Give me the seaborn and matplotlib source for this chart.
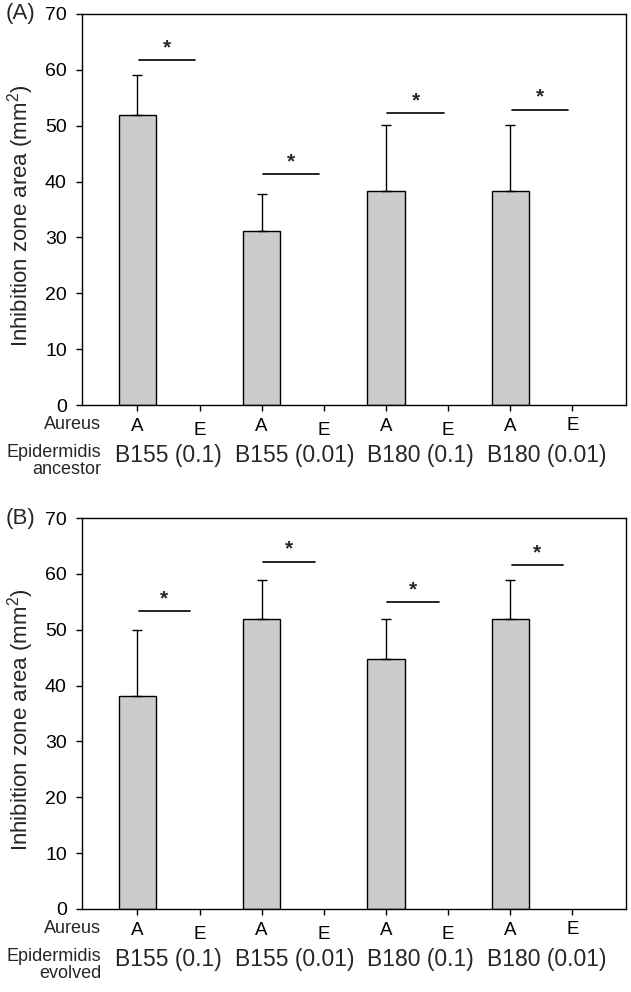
import numpy as np
import pandas as pd
import seaborn as sns
import matplotlib.pyplot as plt
from matplotlib.transforms import ScaledTranslation

sns.set_style("ticks")
plt.rcParams['font.family'] = ['Liberation Sans', 'DejaVu Sans']
plt.rcParams['mathtext.fontset'] = 'custom'
plt.rcParams['mathtext.rm'] = 'Liberation Sans'

strains = ["B155 (0.1)", "B155 (0.01)", "B180 (0.1)", "B180 (0.01)"]
aureus = ["A", "E"]

# panel A: epidermidis ancestor
mean_a = [51.9, 0, 31.1, 0, 38.3, 0, 38.3, 0]
sd_a = [7.2, 0, 6.6, 0, 11.8, 0, 11.8, 0]
sig_a = [61.8, 41.4, 52.3, 52.9]

# panel B: epidermidis evolved
mean_b = [38.2, 0, 51.9, 0, 44.8, 0, 51.9, 0]
sd_b = [11.7, 0, 7.0, 0, 7.1, 0, 7.0, 0]
sig_b = [53.4, 62.2, 54.9, 61.5]

panels = [
    ("(A)", "ancestor", mean_a, sd_a, sig_a, 0.93),
    ("(B)", "evolved", mean_b, sd_b, sig_b, 0.85),
]

fig = plt.figure(figsize=(6.31, 9.92), dpi=100)
boxes = [[0.130, 0.5917, 0.862, 0.3942], [0.130, 0.0837, 0.862, 0.3941]]

for (tag, kind, means, sds, sigs, span), box in zip(panels, boxes):
    ax = fig.add_axes(box)
    df = pd.DataFrame({
        "cond": [s + " " + a for s in strains for a in aureus],
        "value": means,
        "sd": sds,
    })
    sns.barplot(data=df, x="cond", y="value", color="#cccccc", saturation=1,
                edgecolor="black", linewidth=1.0, width=0.6, errorbar=None, ax=ax)
    for p in ax.patches:
        if p.get_height() == 0:
            p.set_linewidth(0)
    xs = np.asarray(ax.get_xticks())
    has = (df["sd"] > 0).to_numpy()
    ax.errorbar(xs[has], df["value"].to_numpy()[has],
                yerr=[np.zeros(has.sum()), df["sd"].to_numpy()[has]],
                fmt="none", ecolor="black", elinewidth=1.0, capsize=3.8, capthick=1.0)

    for k, h in enumerate(sigs):
        x0 = xs[2 * k] + 0.02
        x1 = xs[2 * k] + span
        ax.plot([x0, x1], [h, h], color="black", lw=1.2)
        ax.text((x0 + x1) / 2, h + 0.5, "*", ha="center", va="bottom",
                fontsize=15, fontweight="bold")

    ax.set_xlim(-0.89, 7.86)
    ax.set_ylim(0, 70)
    ax.set_yticks(range(0, 71, 10))
    ax.set_xticks(xs)
    ax.set_xticklabels(aureus * len(strains))
    ax.tick_params(axis="both", direction="out", length=4.5, width=1,
                   labelsize=14, colors="black")
    ax.tick_params(axis="y", pad=6.5)
    ax.tick_params(axis="x", pad=5, labelsize=13.5)
    offs = [0, -4, 0, -4, 0, -4, 0, 1]
    for lab, dy in zip(ax.get_xticklabels(), offs):
        lab.set_transform(lab.get_transform() + ScaledTranslation(0, dy / 100, fig.dpi_scale_trans))
    for sp in ax.spines.values():
        sp.set_visible(True)
        sp.set_linewidth(1.0)
        sp.set_color("black")
    ax.set_xlabel("")
    ax.set_ylabel("Inhibition zone area (mm$^{2}$)", fontsize=16)
    ax.yaxis.set_label_coords(-0.084, 0.485)

    for k, s in enumerate(strains):
        ax.text((xs[2 * k] + xs[2 * k + 1]) / 2 + 0.03 * k, -0.128, s,
                transform=ax.get_xaxis_transform(),
                ha="center", va="center", fontsize=16.5)
    ax.text(0.035, -0.049, "Aureus", transform=ax.transAxes, ha="right",
            va="center", fontsize=13)
    ax.text(0.035, -0.143, "Epidermidis\n" + kind, transform=ax.transAxes, ha="right",
            va="center", fontsize=13, linespacing=1.0, multialignment="right")
    ax.text(-0.113, 1.0, tag, transform=ax.transAxes, ha="center", va="center",
            fontsize=16)

plt.savefig("out.png", dpi=100)
